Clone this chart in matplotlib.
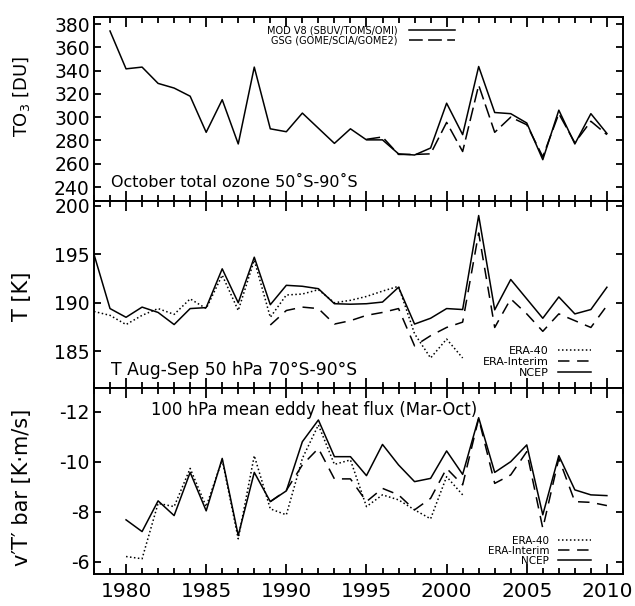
import matplotlib
matplotlib.use("Agg")
import matplotlib.pyplot as plt
from matplotlib.ticker import MultipleLocator

plt.rcParams['font.family'] = ['DejaVu Sans']
plt.rcParams['axes.unicode_minus'] = False

# --- total ozone, October 50S-90S ---
years_mod = list(range(1979, 2011))
to3_mod = [374, 341.5, 343, 329, 325, 318, 287, 315, 277, 343, 290, 287.5,
           303.5, 290.5, 277.5, 290, 280.5, 280.5, 268.5, 267.5, 273.5, 312,
           285, 343.5, 304, 303, 295, 263.5, 306, 277, 303, 286]
years_gsg = list(range(1995, 2011))
to3_gsg = [281, 283, 268, 268, 268.5, 295.5, 270.5, 327.5, 287, 300, 293.5,
           266, 303, 278, 296.5, 285]

# --- temperature Aug-Sep 50 hPa 70S-90S ---
years_t_era40 = list(range(1978, 2002))
t_era40 = [189.1, 188.7, 187.75, 188.7, 189.4, 188.8, 190.4, 189.4, 192.85,
           189.2, 194.4, 188.5, 190.8, 190.9, 191.35, 190.0, 190.25, 190.65,
           191.2, 191.7, 186.8, 184.3, 186.25, 184.3]
years_t_erai = list(range(1989, 2011))
t_erai = [187.7, 189.2, 189.55, 189.4, 187.8, 188.15, 188.7, 189.0, 189.4,
          185.55, 186.6, 187.45, 188.0, 197.2, 187.45, 190.4, 188.85, 187.05,
          188.85, 188.15, 187.45, 189.7]
years_t_ncep = list(range(1978, 2011))
t_ncep = [195.0, 189.4, 188.5, 189.55, 189.0, 187.75, 189.4, 189.5, 193.5,
          190.0, 194.7, 189.8, 191.8, 191.7, 191.45, 189.9, 189.85, 189.9,
          190.07, 191.6, 187.8, 188.4, 189.4, 189.3, 199.0, 189.27, 192.4,
          190.4, 188.4, 190.6, 188.85, 189.3, 191.6]

# --- 100 hPa eddy heat flux Mar-Oct ---
years_v_era40 = list(range(1980, 2002))
v_era40 = [-6.2, -6.11, -8.33, -8.2, -9.73, -8.2, -10.07, -6.91, -10.24,
           -8.11, -7.87, -10.13, -11.47, -9.89, -10.07, -8.2, -8.67, -8.47,
           -8.07, -7.71, -9.4, -8.67]
years_v_erai = list(range(1989, 2011))
v_erai = [-8.4, -8.85, -9.87, -10.53, -9.31, -9.31, -8.4, -8.93, -8.67,
          -8.07, -8.53, -9.73, -9.07, -11.73, -9.13, -9.47, -10.4, -7.33,
          -10.13, -8.4, -8.37, -8.24]
years_v_ncep = list(range(1980, 2011))
v_ncep = [-7.67, -7.2, -8.43, -7.84, -9.57, -8.03, -10.13, -7.04, -9.57,
          -8.4, -8.83, -10.8, -11.67, -10.2, -10.2, -9.44, -10.69, -9.87,
          -9.2, -9.33, -10.43, -9.49, -11.76, -9.57, -10.0, -10.67, -7.87,
          -10.24, -8.87, -8.67, -8.64]

lw = 1.1
dash_gsg = (9, 3.5)
dash_erai = (7.5, 5)
dot_era40 = (1, 1.6)

fig = plt.figure(figsize=(6.35, 6.06), dpi=100)
left, width = 0.148, 0.833
ax1 = fig.add_axes([left, 0.6683, width, 0.3036])
ax2 = fig.add_axes([left, 0.3597, width, 0.3086])
ax3 = fig.add_axes([left, 0.0528, width, 0.3069])

for ax in (ax1, ax2, ax3):
    ax.set_xlim(1978, 2011)
    ax.xaxis.set_major_locator(MultipleLocator(5))
    ax.xaxis.set_minor_locator(MultipleLocator(1))
    ax.tick_params(which='both', direction='in', top=True, right=True,
                   width=1.3, labelsize=13.5)
    ax.tick_params(axis='x', which='major', length=7, labelsize=14.5, pad=6)
    ax.tick_params(axis='x', which='minor', length=4)
    ax.tick_params(axis='y', which='major', length=5, pad=3)
    for s in ax.spines.values():
        s.set_linewidth(1.4)
ax1.tick_params(axis='x', labelbottom=False)
ax2.tick_params(axis='x', labelbottom=False)

# top panel
ax1.plot(years_mod, to3_mod, color='k', lw=lw, label='MOD V8 (SBUV/TOMS/OMI)')
ax1.plot(years_gsg, to3_gsg, color='k', lw=lw, dashes=dash_gsg,
         label='GSG (GOME/SCIA/GOME2)')
ax1.set_ylim(228, 386)
ax1.set_yticks(range(240, 381, 20))
ax1.legend(loc='upper right', bbox_to_anchor=(0.682, 0.955), frameon=False,
           markerfirst=False, fontsize=7, handlelength=4.7, handletextpad=1.2,
           labelspacing=0.0, borderpad=0, borderaxespad=0)
ax1.text(0.032, 0.098, 'October total ozone 50˚S-90˚S', transform=ax1.transAxes,
         fontsize=11.5, va='center', ha='left')

# middle panel
ax2.plot(years_t_era40, t_era40, color='k', lw=lw, dashes=dot_era40, label='ERA-40')
ax2.plot(years_t_erai, t_erai, color='k', lw=lw, dashes=dash_erai, label='ERA-Interim')
ax2.plot(years_t_ncep, t_ncep, color='k', lw=lw, label='NCEP')
ax2.set_ylim(181.2, 200.5)
ax2.set_yticks([185, 190, 195, 200])
ax2.legend(loc='lower right', bbox_to_anchor=(0.939, 0.055), frameon=False,
           markerfirst=False, fontsize=8, handlelength=2.9, handletextpad=0.9,
           labelspacing=0.1, borderpad=0, borderaxespad=0)
ax2.text(0.032, 0.096, 'T Aug-Sep 50 hPa 70°S-90°S', transform=ax2.transAxes,
         fontsize=12.3, va='center', ha='left')

# bottom panel
ax3.plot(years_v_era40, v_era40, color='k', lw=lw, dashes=dot_era40, label='ERA-40')
ax3.plot(years_v_erai, v_erai, color='k', lw=lw, dashes=dash_erai, label='ERA-Interim')
ax3.plot(years_v_ncep, v_ncep, color='k', lw=lw, label='NCEP')
ax3.set_ylim(-5.5, -12.95)
ax3.set_yticks([-12, -10, -8, -6])
ax3.legend(loc='lower right', bbox_to_anchor=(0.939, 0.045), frameon=False,
           markerfirst=False, fontsize=7.5, handlelength=3.1, handletextpad=0.9,
           labelspacing=0.0, borderpad=0, borderaxespad=0)
ax3.text(0.107, 0.882, '100 hPa mean eddy heat flux (Mar-Oct)',
         transform=ax3.transAxes, fontsize=11.9, va='center', ha='left')

fig.text(22 / 635, 1 - 96 / 606, 'TO$_3$ [DU]', rotation=90, fontsize=13,
         ha='center', va='center')
fig.text(22 / 635, 1 - 296 / 606, 'T [K]', rotation=90, fontsize=15,
         ha='center', va='center')
fig.text(22 / 635, 1 - 487 / 606, "v′T′ bar [K·m/s]", rotation=90, fontsize=15,
         ha='center', va='center')

fig.savefig('out.png', dpi=100)
